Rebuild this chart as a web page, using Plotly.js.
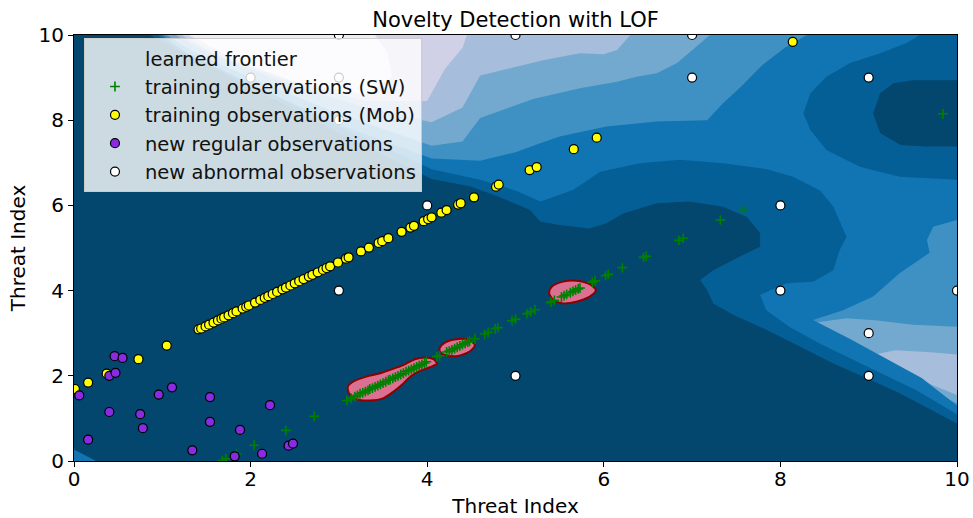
<!DOCTYPE html>
<html>
<head>
<meta charset="utf-8">
<script src="https://cdn.plot.ly/plotly-3.0.1.min.js"></script>
<style>html,body{margin:0;padding:0;background:#fff;}#chart{width:973px;height:518px;}</style>
</head>
<body>
<div id="chart"></div>
<script>
// ---------------- data ----------------
// training observations (SW)
const swX = [1.68,1.72,1.84,2.04,2.40,2.72,3.09,3.14,
  3.18,3.21,3.24,3.27,3.30,3.33,3.35,3.38,3.41,3.44,3.47,3.50,3.53,3.56,3.58,3.61,3.64,3.67,3.70,3.73,3.76,3.79,3.82,3.85,3.88,3.91,3.94,3.97,3.99,
  4.11,4.14,4.22,4.25,4.28,4.31,4.34,4.37,4.40,4.43,4.46,4.48,
  4.54,4.65,4.69,4.77,4.80,4.96,5.00,5.13,5.17,5.22,5.40,5.44,5.52,
  5.55,5.58,5.62,5.65,5.68,5.71,5.73,
  5.87,5.90,6.02,6.05,6.21,6.45,6.48,6.85,6.90,7.32,7.58,9.84];
const swY = [0.01,0.05,0.16,0.37,0.72,1.05,1.42,1.47,
  1.51,1.54,1.58,1.60,1.63,1.66,1.69,1.71,1.74,1.77,1.80,1.83,1.86,1.90,1.91,1.94,1.97,2.00,2.03,2.06,2.10,2.12,2.15,2.18,2.21,2.24,2.27,2.30,2.33,
  2.45,2.47,2.56,2.58,2.61,2.64,2.67,2.70,2.73,2.76,2.79,2.81,
  2.87,2.98,3.02,3.10,3.13,3.29,3.33,3.46,3.50,3.55,3.73,3.77,3.85,
  3.88,3.91,3.95,3.98,4.01,4.04,4.06,
  4.20,4.23,4.35,4.38,4.54,4.78,4.81,5.18,5.23,5.66,5.90,8.15];
// training observations (Mob)
const mobX = [0.01,0.16,0.37,0.73,1.05,1.41,1.44,1.49,1.53,1.58,1.63,1.67,1.70,1.75,1.80,1.84,1.91,1.95,1.98,2.05,2.11,2.16,2.20,2.25,2.30,2.36,2.40,2.45,2.50,2.55,2.60,2.66,2.70,2.76,2.82,2.86,2.90,2.99,3.08,3.11,3.25,3.34,3.45,3.49,3.56,3.71,3.81,3.85,3.96,4.01,4.05,4.16,4.22,4.35,4.38,4.53,4.78,4.81,5.16,5.24,5.66,5.92,8.14];
const mobY = [1.69,1.84,2.05,2.39,2.71,3.09,3.11,3.16,3.20,3.25,3.30,3.34,3.37,3.42,3.47,3.51,3.58,3.62,3.65,3.72,3.78,3.83,3.87,3.92,3.97,4.03,4.07,4.12,4.17,4.22,4.27,4.33,4.37,4.43,4.49,4.53,4.57,4.66,4.75,4.78,4.92,5.01,5.12,5.16,5.23,5.38,5.48,5.52,5.63,5.68,5.72,5.83,5.89,6.02,6.05,6.19,6.44,6.49,6.83,6.90,7.32,7.59,9.84];
// new regular observations
const regX = [0.46,0.55,0.40,0.47,0.06,0.96,1.11,1.54,0.40,0.75,0.78,0.16,1.54,1.88,2.22,1.34,1.82,2.13,2.43,2.48];
const regY = [2.46,2.42,2.00,2.07,1.54,1.56,1.73,1.50,1.15,1.10,0.77,0.50,0.92,0.73,1.31,0.25,0.11,0.17,0.36,0.41];
// new abnormal observations
const abnX = [3,5,7,2,3,3,7,9,4,8,3,8,10,9,5,9];
const abnY = [10,10,10,9,9,8,9,9,6,6,4,4,4,3,2,2];

// learned frontier (decision function = 0), three closed outlines
const frontAX = [3.10,3.16,3.31,3.47,3.58,3.73,3.86,3.98,4.07,4.11,4.03,3.90,3.81,3.73,3.62,3.50,3.35,3.20,3.12,3.10];
const frontAY = [1.74,1.86,1.98,2.06,2.14,2.25,2.39,2.43,2.39,2.29,2.20,2.10,1.98,1.82,1.63,1.47,1.42,1.45,1.57,1.74];
const frontBX = [4.14,4.20,4.33,4.47,4.54,4.48,4.33,4.20,4.15,4.14];
const frontBY = [2.65,2.78,2.86,2.84,2.72,2.57,2.46,2.49,2.55,2.65];
const frontCX = [5.38,5.41,5.54,5.69,5.84,5.91,5.84,5.69,5.54,5.43,5.38];
const frontCY = [3.95,4.09,4.21,4.23,4.15,4.01,3.86,3.74,3.70,3.78,3.95];

// decision-function bands (level-set outlines)
const bandColors = ['#efebf4','#d0d1e6','#a6bddb','#74a9cf','#3e91c2','#1175b3','#045f97','#03466e'];
// superlevel sets (darker bands)
const r5X = [0,1.0,1.3,2.0,3.0,4.05,4.6,5.0,5.28,5.5,6.03,6.6,7.17,7.35,7.55,7.8,8.05,8.3,10,10,9.73,9.66,9.69,9.35,9.05,8.71,8.37,8.8,9.2,9.6,10,10,0];
const r5Y = [10,10,9.55,8.85,7.9,7.1,7.05,7.25,7.46,7.62,7.85,7.97,8.0,8.40,8.78,9.3,9.7,10,10,5.66,5.5,5.19,4.89,4.41,3.86,3.54,3.31,2.85,2.4,1.95,1.3,0,0];
const r6X = [0,0.95,1.25,2.1,3.1,4.05,4.6,5.0,5.28,5.39,5.65,5.96,6.41,6.86,7.35,7.85,8.14,8.45,8.60,8.75,8.67,8.60,8.37,8.07,7.77,7.84,8.1,8.45,8.8,9.15,9.55,10,10,0.3,0,null,
  8.26,8.34,8.52,8.79,9.13,9.43,9.58,10,10,9.35,8.90,8.52,8.34];
const r6Y = [10,10,9.6,8.75,7.75,6.85,6.6,6.35,6.09,6.17,6.36,6.79,6.99,7.07,6.99,6.85,6.67,6.35,5.97,5.26,4.95,4.48,4.21,4.17,3.9,3.54,3.15,2.75,2.4,2.05,1.65,1.1,0,0,0.33,null,
  8.16,8.63,9.02,9.34,9.57,9.81,10,10,6.6,6.67,6.91,7.30,7.77];
const r7X = [0,0.86,1.2,2.0,3.0,4.05,4.48,4.79,5.16,5.28,5.50,5.84,6.03,6.22,6.60,6.97,7.35,7.62,7.77,7.77,7.54,7.24,7.09,7.17,7.24,7.47,7.84,8.22,8.60,8.98,9.35,10,10,0.25,0,null,
  9.05,9.13,9.28,9.50,10,10,9.66,9.36,9.13];
const r7Y = [10,10,9.62,8.78,7.7,6.62,6.45,6.22,5.9,5.62,5.54,5.46,5.58,5.81,6.05,6.09,5.97,5.73,5.35,5.03,4.80,4.48,4.25,4.01,3.70,3.43,3.08,2.68,2.29,1.94,1.59,0.88,0,0,0.27,null,
  8.16,8.63,8.87,8.94,8.94,7.38,7.38,7.42,7.70];
// sublevel sets (lighter bands)
const l3X = [1.05,1.35,2.1,3.0,3.7,4.05,4.4,4.6,5.2,5.73,6.15,6.37,6.60,6.83,7.05,7.2,null,
  8.4,8.75,9.1,9.5,10,10,9.6,9.2,8.85];
const l3Y = [10,9.6,8.9,8.15,7.65,7.4,7.5,8.05,8.5,8.75,8.9,9.02,9.10,9.34,9.73,10,null,
  3.25,3.35,3.3,3.2,3.15,1.35,1.75,2.15,2.6];
const l2X = [1.15,1.5,2.3,3.2,4.05,4.4,4.6,5.3,5.73,6.0,6.15,6.3,null,
  8.95,9.3,9.7,10,10,9.7,9.3];
const l2Y = [10,9.6,8.95,8.35,7.95,8.3,9.05,9.4,9.57,9.55,9.65,10,null,
  2.45,2.6,2.55,2.5,1.55,1.8,2.1];
const l1X = [1.22,1.6,2.4,3.3,4.0,4.2,4.4,4.45];
const l1Y = [10,9.55,8.95,8.45,8.45,9.2,9.7,10];
const l0X = [1.3,1.8,2.5,3.3,3.6,3.55,3.41];
const l0Y = [10,9.45,8.9,8.6,9.0,9.6,10];

const ticks = [0,2,4,6,8,10];

// ---------------- traces ----------------
function band(x, y, color) {
  return {x: x, y: y, type: 'scatter', mode: 'lines', fill: 'toself', fillcolor: color,
    line: {width: 0, color: color}, hoverinfo: 'skip', showlegend: false};
}
function frontier(x, y) {
  return {x: x, y: y, type: 'scatter', mode: 'lines', fill: 'toself', fillcolor: '#db7093',
    line: {width: 2, color: '#8b0000', shape: 'spline', smoothing: 0.8}, hoverinfo: 'skip', showlegend: false};
}
const traces = [
  band(l3X, l3Y, bandColors[3]),
  band(l2X, l2Y, bandColors[2]),
  band(l1X, l1Y, bandColors[1]),
  band(l0X, l0Y, bandColors[0]),
  band(r5X, r5Y, bandColors[5]),
  band(r6X, r6Y, bandColors[6]),
  band(r7X, r7Y, bandColors[7]),
  frontier(frontAX, frontAY),
  frontier(frontBX, frontBY),
  frontier(frontCX, frontCY),
  {x: [null], y: [null], type: 'scatter', mode: 'markers', name: 'learned frontier',
    marker: {size: 8, color: 'rgba(0,0,0,0)'}},
  {x: swX, y: swY, type: 'scatter', mode: 'markers', name: 'training observations (SW)',
    marker: {symbol: 'cross-thin', size: 7, color: 'green', line: {width: 1.6, color: 'green'}}},
  {x: mobX, y: mobY, type: 'scatter', mode: 'markers', name: 'training observations (Mob)',
    marker: {symbol: 'circle', size: 9, color: '#ffff00', line: {width: 1.2, color: 'black'}}},
  {x: regX, y: regY, type: 'scatter', mode: 'markers', name: 'new regular observations',
    marker: {symbol: 'circle', size: 9, color: '#8a2be2', line: {width: 1.2, color: 'black'}}},
  {x: abnX, y: abnY, type: 'scatter', mode: 'markers', name: 'new abnormal observations',
    marker: {symbol: 'circle', size: 9, color: 'white', line: {width: 1.2, color: 'black'}}},
  // carrier for the tick-mark-only x axis
  {x: [null], y: [null], type: 'scatter', mode: 'markers', xaxis: 'x2', showlegend: false, hoverinfo: 'skip'}
];

const axisCommon = {
  range: [0, 10], tickvals: ticks, ticktext: ticks.map(String), tickwidth: 1,
  tickcolor: 'black', showline: true, linecolor: 'black', linewidth: 1, mirror: true,
  showgrid: false, zeroline: false, tickfont: {size: 20, color: 'black'}
};
const layout = {
  width: 973, height: 518,
  margin: {l: 74, r: 16, t: 35, b: 57},
  paper_bgcolor: 'white', plot_bgcolor: bandColors[4],
  font: {family: 'DejaVu Sans', color: 'black'},
  title: {text: 'Novelty Detection with LOF', font: {size: 21, color: 'black'},
    x: 0.5, xref: 'paper', y: 0.962, yref: 'container', yanchor: 'middle'},
  xaxis: Object.assign({}, axisCommon, {ticks: '',
    title: {text: 'Threat Index', font: {size: 20}, standoff: 13}}),
  xaxis2: {range: [0, 10], tickvals: ticks, overlaying: 'x', anchor: 'y', side: 'bottom',
    ticks: 'outside', ticklen: 5, tickwidth: 1, tickcolor: 'black', showticklabels: false,
    showline: false, showgrid: false, zeroline: false},
  yaxis: Object.assign({}, axisCommon, {ticks: 'outside', ticklen: 5,
    title: {text: 'Threat Index', font: {size: 20}, standoff: 7}}),
  legend: {x: 0.0113, y: 0.993, xanchor: 'left', yanchor: 'top', bgcolor: 'rgba(255,255,255,0.8)',
    bordercolor: '#cccccc', borderwidth: 1, font: {size: 19.5, color: '#111'}, itemwidth: 50,
    tracegroupgap: 0},
  showlegend: true
};
Plotly.newPlot('chart', traces, layout, {staticPlot: true, displayModeBar: false});
</script>
</body>
</html>
